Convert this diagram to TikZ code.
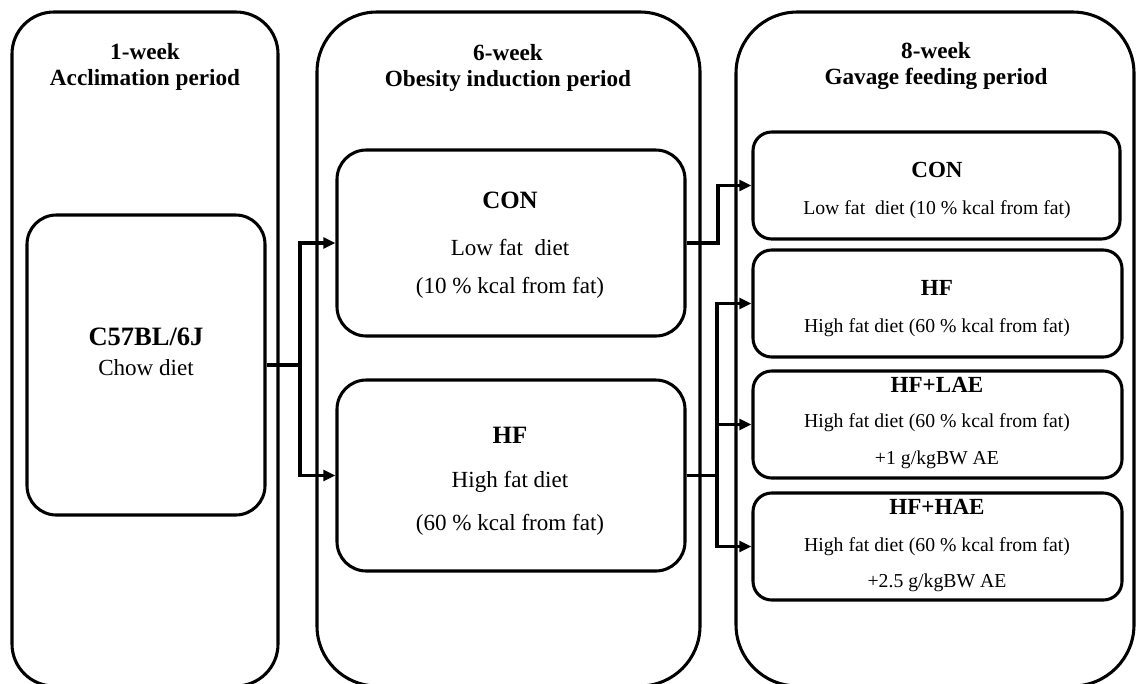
\documentclass[tikz,border=0pt]{standalone}
\usepackage{fontspec}
\setmainfont{Liberation Serif}
\usetikzlibrary{arrows.meta,fit,calc}
\begin{document}
\begin{tikzpicture}[x=0.75pt,y=-0.75pt,
  big/.style={draw,line width=2.3pt,inner sep=0pt},
  inbox/.style={draw,line width=2.3pt,inner sep=0pt},
  conn/.style={line width=2.3pt},
  arr/.style={conn,-{Triangle[length=9pt,width=8pt]}},
  head/.style={font=\bfseries\fontsize{17.4}{19.5}\selectfont,align=center,inner sep=0pt},
  midtitle/.style={font=\bfseries\fontsize{18.7}{20}\selectfont,inner sep=0pt},
  midtext/.style={font=\fontsize{17.3}{20}\selectfont,inner sep=0pt},
  rtitle/.style={font=\bfseries\fontsize{17.3}{20}\selectfont,inner sep=0pt},
  rtext/.style={font=\fontsize{14.8}{17}\selectfont,inner sep=0pt}
]
\useasboundingbox (0,0) rectangle (1139,683);
\clip (0,0) rectangle (1139,683);

% period boxes
\node[big,rounded corners=31.5pt,fit={(12,12)(278,686)}] (p1) {};
\node[big,rounded corners=45pt,fit={(317,12)(700,686)}] (p2) {};
\node[big,rounded corners=46pt,fit={(736,12)(1134,686)}] (p3) {};

\node[head] (h1) at (145,66.5) {1-week\\Acclimation period};
\node[head] (h2) at (508,67.5) {6-week\\Obesity induction period};
\node[head] (h3) at (936,66.5) {8-week\\Gavage feeding period};

% inner boxes
\node[inbox,rounded corners=22pt,fit={(27,215)(265,515)}] (c57) {};
\node[inbox,rounded corners=22pt,fit={(337,150)(685,336)}] (mcon) {};
\node[inbox,rounded corners=22pt,fit={(337,380)(685,571)}] (mhf) {};
\node[inbox,rounded corners=14pt,fit={(753,132)(1120,239)}] (rcon) {};
\node[inbox,rounded corners=14pt,fit={(753,250)(1122,357)}] (rhf) {};
\node[inbox,rounded corners=14pt,fit={(753,371)(1122,478)}] (rlae) {};
\node[inbox,rounded corners=14pt,fit={(753,493)(1122,600)}] (rhae) {};

% texts
\node[font=\bfseries\fontsize{19.9}{22}\selectfont,inner sep=0pt] (t1) at (146,337) {C57BL/6J};
\node[midtext] (t2) at (146,368) {Chow diet};

\node[midtitle] (t3) at (510,200) {CON};
\node[midtext] (t4) at (510,247) {Low fat\ \ diet};
\node[midtext] (t5) at (510,288) {(10 \% kcal from fat)};

\node[midtitle] (t6) at (510,435) {HF};
\node[midtext] (t7) at (510,482) {High fat diet};
\node[midtext] (t8) at (510,525) {(60 \% kcal from fat)};

\node[rtitle] (t9) at (937,170) {CON};
\node[rtext] (t10) at (937,210) {Low fat\ \ diet (10 \% kcal from fat)};

\node[rtitle] (t11) at (937,288) {HF};
\node[rtext] (t12) at (937,328) {High fat diet (60 \% kcal from fat)};

\node[rtitle] (t13) at (937,385) {HF+LAE};
\node[rtext] (t14) at (937,423) {High fat diet (60 \% kcal from fat)};
\node[rtext] (t15) at (937,460) {+1 g/kgBW AE};

\node[rtitle] (t16) at (937,507) {HF+HAE};
\node[rtext] (t17) at (937,547) {High fat diet (60 \% kcal from fat)};
\node[rtext] (t18) at (937,583) {+2.5 g/kgBW AE};

% connectors
\coordinate (j1) at (300,365);
\coordinate (j2) at (718,0);
\coordinate (j3) at (717,0);
\draw[conn] (c57.east) -- (c57.east -| j1);
\draw[arr] (c57.east -| j1) |- (mcon.west);
\draw[arr] (c57.east -| j1) |- (mhf.west);
\draw[arr] (mcon.east) -- (mcon.east -| j2) |- (rcon.west);
\draw[arr] (mhf.east) -- (mhf.east -| j3) |- (rhf.west);
\draw[arr] (mhf.east) -- (mhf.east -| j3) |- (rlae.west);
\draw[arr] (mhf.east) -- (mhf.east -| j3) |- (rhae.west);
\end{tikzpicture}
\end{document}
